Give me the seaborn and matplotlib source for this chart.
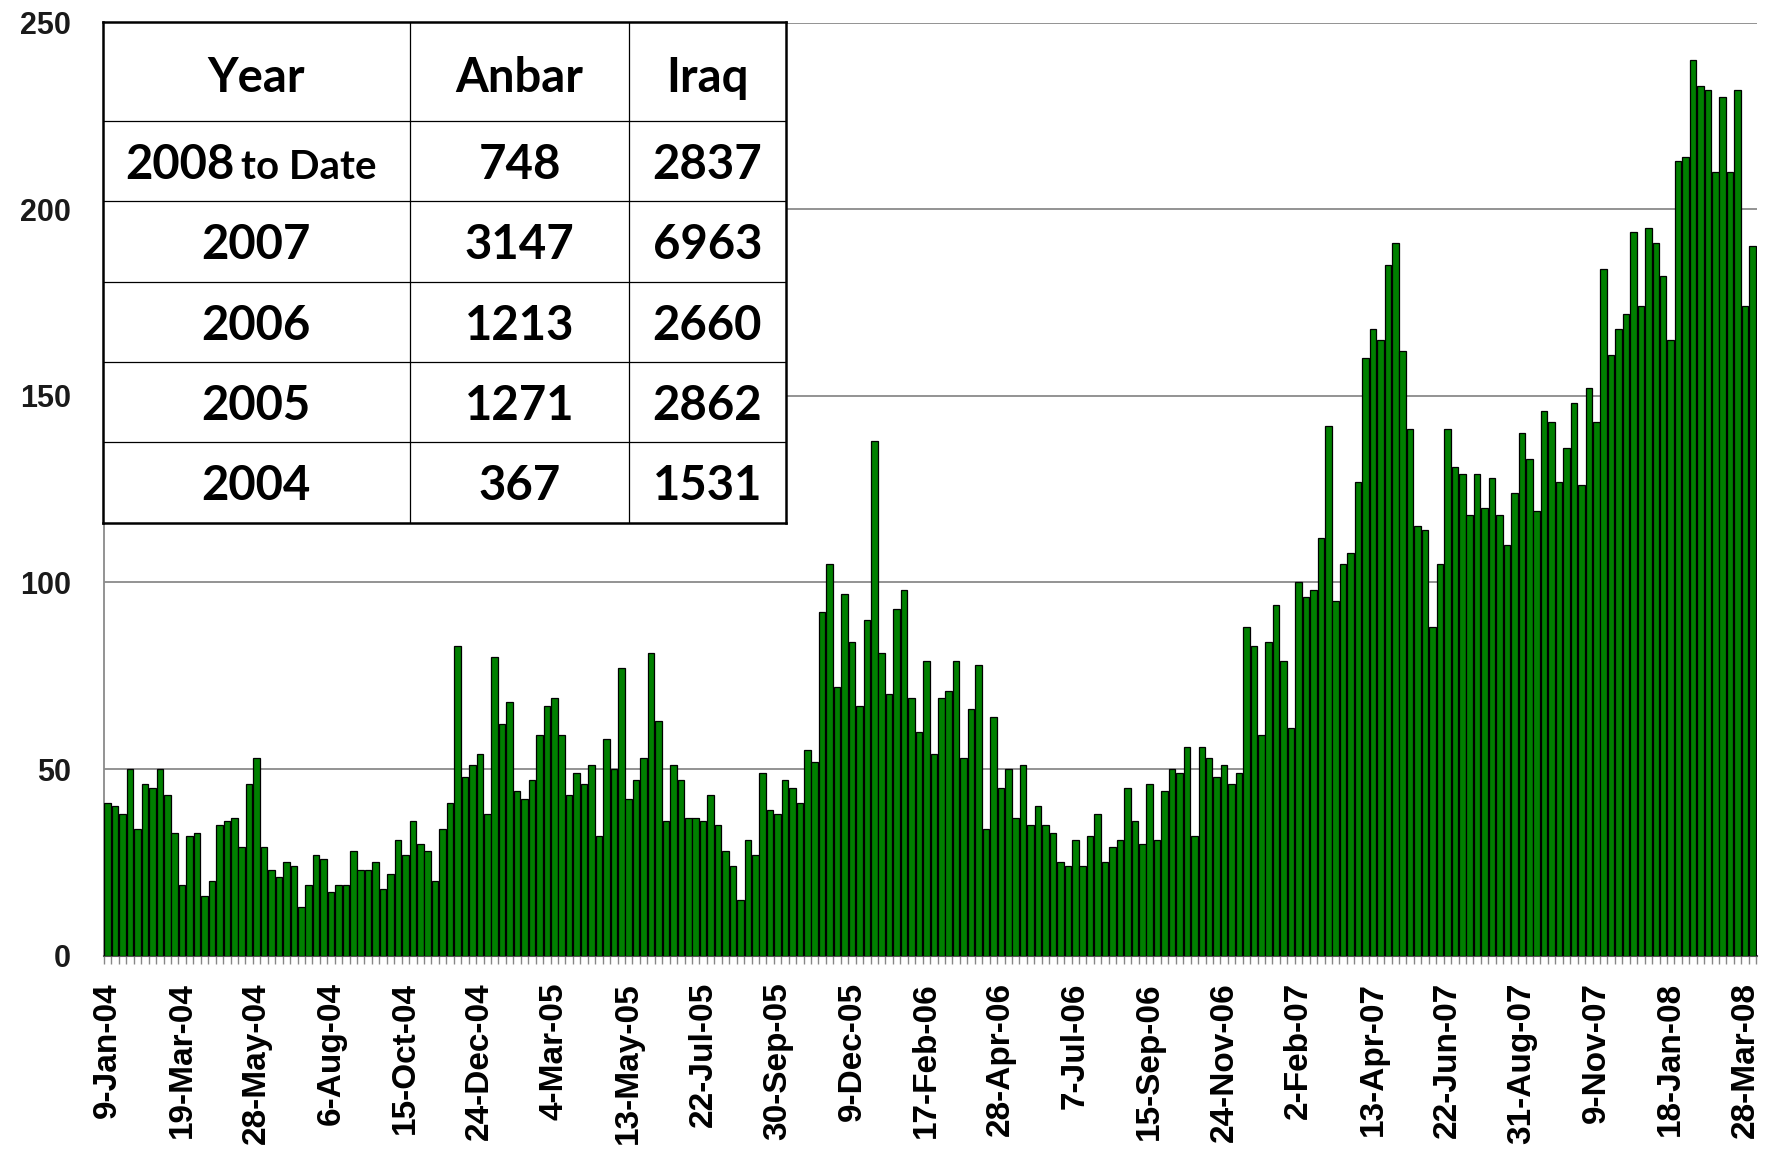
import seaborn as sns
import matplotlib.pyplot as plt
import numpy as np
import pandas as pd

# Weekly counts (first week 9-Jan-04)
weekly = [41, 40, 38, 50, 34, 46, 45, 50, 43, 33, 19, 32, 33, 16, 20, 35, 36, 37, 29,
          46, 53, 29, 23, 21, 25, 24, 13, 19, 27, 26, 17, 19, 19, 28, 23, 23, 25, 18,
          22, 31, 27, 36, 30, 28, 20, 34, 41, 83, 48, 51, 54, 38, 80, 62, 68, 44, 42,
          47, 59, 67, 69, 59, 43, 49, 46, 51, 32, 58, 50, 77, 42, 47, 53, 81, 63, 36,
          51, 47, 37, 37, 36, 43, 35, 28, 24, 15, 31, 27, 49, 39, 38, 47, 45, 41, 55,
          52, 92, 105, 72, 97, 84, 67, 90, 138, 81, 70, 93, 98, 69, 60, 79, 54, 69, 71,
          79, 53, 66, 78, 34, 64, 45, 50, 37, 51, 35, 40, 35, 33, 25, 24, 31, 24, 32,
          38, 25, 29, 31, 45, 36, 30, 46, 31, 44, 50, 49, 56, 32, 56, 53, 48, 51, 46,
          49, 88, 83, 59, 84, 94, 79, 61, 100, 96, 98, 112, 142, 95, 105, 108, 127, 160, 168,
          165, 185, 191, 162, 141, 115, 114, 88, 105, 141, 131, 129, 118, 129, 120, 128, 118, 110, 124,
          140, 133, 119, 146, 143, 127, 136, 148, 126, 152, 143, 184, 161, 168, 172, 194, 174, 195, 191,
          182, 165, 213, 214, 240, 233, 232, 210, 230, 210, 232, 174, 190]

tick_labels = ['9-Jan-04', '19-Mar-04', '28-May-04', '6-Aug-04', '15-Oct-04', '24-Dec-04',
               '4-Mar-05', '13-May-05', '22-Jul-05', '30-Sep-05', '9-Dec-05', '17-Feb-06',
               '28-Apr-06', '7-Jul-06', '15-Sep-06', '24-Nov-06', '2-Feb-07', '13-Apr-07',
               '22-Jun-07', '31-Aug-07', '9-Nov-07', '18-Jan-08', '28-Mar-08']

# Summary table
years = ['2008', '2007', '2006', '2005', '2004']
anbar = [748, 3147, 1213, 1271, 367]
iraq = [2837, 6963, 2660, 2862, 1531]

df = pd.DataFrame({'week': np.arange(len(weekly)), 'count': weekly})

sns.set_style('white')
plt.rcParams['font.family'] = ['Liberation Sans', 'DejaVu Sans']

W, H = 1767, 1168
fig = plt.figure(figsize=(W / 100, H / 100), dpi=100)
ax = fig.add_axes([104 / W, 1 - 955.7 / H, (1757 - 104) / W, (955.7 - 22.5) / H])

sns.barplot(data=df, x='week', y='count', color='#008000', saturation=1,
            edgecolor='black', linewidth=0.9, width=0.88, ax=ax, zorder=3)

ax.set_xlim(-0.5, len(weekly) - 0.4)
ax.set_ylim(0, 250)
ax.set_yticks(range(0, 251, 50))
ax.yaxis.grid(True, color='#8a8a8a', linewidth=1.3, zorder=0)
ax.set_axisbelow(True)
for s in ['top', 'right']:
    ax.spines[s].set_visible(False)
ax.spines['left'].set_color('#8a8a8a')
ax.spines['left'].set_linewidth(1.3)
ax.spines['bottom'].set_color('#555555')
ax.spines['bottom'].set_linewidth(1.5)

ax.set_xticks(range(0, len(tick_labels) * 10, 10))
ax.set_xticklabels(tick_labels, rotation=90, fontsize=24, fontweight='bold', color='black')
ax.set_xticks(np.arange(-0.5, len(weekly), 1), minor=True)
ax.tick_params(axis='x', which='major', length=0, pad=19)
ax.tick_params(axis='x', which='minor', length=6, width=1, color='#888888', bottom=True)
ax.tick_params(axis='y', length=0, pad=24, labelsize=22)
for t in ax.get_yticklabels():
    t.set_fontweight('bold')
    t.set_color('#1a1a1a')
ax.set_xlabel('')
ax.set_ylabel('')

# Table inset
tw, th = 683, 500.5
tax = fig.add_axes([102.5 / W, 1 - 523 / H, tw / W, th / H])
tax.set_xlim(0, tw)
tax.set_ylim(th, 0)
tax.set_xticks([])
tax.set_yticks([])
tax.set_facecolor('white')
for s in tax.spines.values():
    s.set_color('black')
    s.set_linewidth(1.8)

col_edges = [0, 307.5, 526.5, tw]
row_edges = [0, 98.1, 178.1, 259.3, 339.3, 419.3, th]
for x in col_edges[1:-1]:
    tax.plot([x, x], [0, th], color='black', linewidth=0.9)
for y in row_edges[1:-1]:
    tax.plot([0, tw], [y, y], color='black', linewidth=0.9)

cx = [(col_edges[i] + col_edges[i + 1]) / 2 for i in range(3)]
cy = [(row_edges[i] + row_edges[i + 1]) / 2 + 4 for i in range(6)]
tfont = dict(family=['Lato', 'DejaVu Sans'], fontweight='bold', color='black', va='center')

for i, h in enumerate(['Year', 'Anbar', 'Iraq']):
    tax.text(cx[i], cy[0] + 2, h, ha='center', fontsize=34, **tfont)

for r in range(len(years)):
    y = cy[r + 1]
    if r == 0:
        tax.text(132, y, years[r], ha='right', fontsize=34, **tfont)
        tax.text(138.5, y + 3, 'to Date', ha='left', fontsize=29, **tfont)
    else:
        tax.text(cx[0], y, years[r], ha='center', fontsize=34, **tfont)
    tax.text(cx[1], y, str(anbar[r]), ha='center', fontsize=34, **tfont)
    tax.text(cx[2], y, str(iraq[r]), ha='center', fontsize=34, **tfont)

fig.savefig('out.png', dpi=100, facecolor='white')
